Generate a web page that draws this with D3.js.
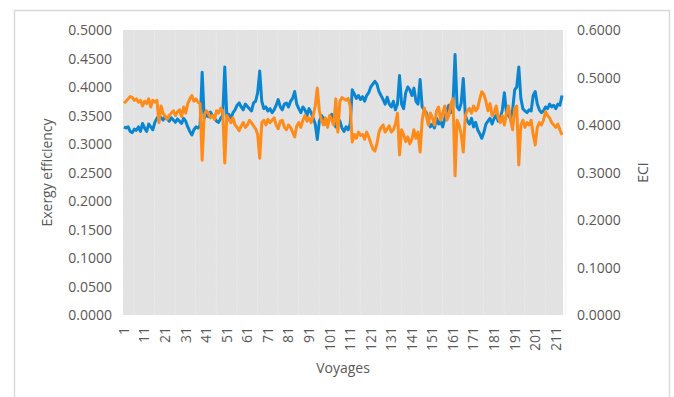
<!DOCTYPE html>
<html>
<head>
<meta charset="utf-8">
<script src="https://cdn.jsdelivr.net/npm/d3@7"></script>
<style>
html,body{margin:0;padding:0;background:#fff;}
svg{display:block;}
text{font-family:"Open Sans","Liberation Sans",sans-serif;fill:#595959;}
</style>
</head>
<body>
<svg id="chart" width="674" height="397"></svg>
<script>
const exergy = [
0.330,0.328,0.330,0.322,0.320,0.326,0.324,0.330,0.322,0.336,
0.328,0.322,0.335,0.330,0.325,0.338,0.345,0.350,0.346,0.342,
0.348,0.344,0.340,0.346,0.342,0.338,0.344,0.340,0.336,0.345,
0.340,0.330,0.322,0.316,0.325,0.330,0.328,0.332,0.426,0.345,
0.352,0.348,0.356,0.350,0.345,0.340,0.338,0.345,0.350,0.435,
0.348,0.352,0.345,0.355,0.360,0.368,0.372,0.365,0.360,0.370,
0.366,0.362,0.358,0.372,0.375,0.390,0.428,0.375,0.362,0.365,
0.358,0.362,0.355,0.360,0.368,0.378,0.365,0.360,0.370,0.372,
0.365,0.375,0.380,0.392,0.370,0.362,0.355,0.365,0.360,0.350,
0.362,0.355,0.345,0.335,0.308,0.340,0.350,0.345,0.335,0.340,
0.345,0.352,0.338,0.330,0.345,0.340,0.328,0.322,0.330,0.325,
0.335,0.395,0.388,0.380,0.385,0.378,0.383,0.375,0.385,0.390,
0.400,0.405,0.410,0.405,0.392,0.385,0.378,0.370,0.382,0.370,
0.365,0.375,0.360,0.370,0.420,0.370,0.362,0.390,0.400,0.395,
0.385,0.398,0.375,0.370,0.413,0.365,0.360,0.355,0.340,0.330,
0.335,0.328,0.345,0.335,0.340,0.330,0.345,0.360,0.368,0.355,
0.370,0.457,0.365,0.360,0.372,0.415,0.350,0.340,0.335,0.345,
0.330,0.338,0.325,0.318,0.310,0.320,0.335,0.340,0.345,0.335,
0.345,0.350,0.340,0.345,0.360,0.390,0.355,0.350,0.345,0.360,
0.395,0.400,0.435,0.380,0.362,0.358,0.355,0.360,0.358,0.385,
0.392,0.370,0.360,0.355,0.358,0.365,0.362,0.370,0.365,0.368,
0.362,0.370,0.368,0.385
];
const eci = [
0.446,0.450,0.455,0.460,0.458,0.452,0.455,0.448,0.452,0.440,
0.450,0.445,0.455,0.438,0.452,0.448,0.452,0.405,0.440,0.425,
0.418,0.412,0.420,0.425,0.430,0.420,0.428,0.432,0.418,0.438,
0.425,0.445,0.455,0.462,0.450,0.455,0.448,0.445,0.326,0.420,
0.430,0.425,0.415,0.420,0.412,0.430,0.425,0.435,0.430,0.320,
0.420,0.412,0.405,0.415,0.400,0.395,0.388,0.398,0.405,0.395,
0.400,0.410,0.405,0.398,0.392,0.380,0.330,0.405,0.410,0.400,
0.412,0.405,0.410,0.415,0.400,0.392,0.408,0.410,0.395,0.390,
0.400,0.395,0.385,0.375,0.398,0.405,0.395,0.410,0.420,0.408,
0.415,0.405,0.420,0.440,0.478,0.430,0.410,0.400,0.415,0.395,
0.420,0.410,0.400,0.455,0.385,0.450,0.458,0.455,0.452,0.456,
0.440,0.364,0.380,0.372,0.385,0.378,0.380,0.370,0.385,0.375,
0.362,0.350,0.345,0.360,0.385,0.395,0.400,0.385,0.392,0.398,
0.385,0.390,0.402,0.425,0.337,0.390,0.380,0.365,0.375,0.360,
0.370,0.390,0.372,0.385,0.343,0.410,0.436,0.420,0.400,0.425,
0.415,0.400,0.430,0.438,0.410,0.425,0.440,0.410,0.420,0.445,
0.455,0.293,0.410,0.400,0.380,0.343,0.420,0.430,0.435,0.425,
0.440,0.430,0.435,0.455,0.470,0.465,0.450,0.430,0.445,0.420,
0.425,0.440,0.415,0.405,0.420,0.400,0.425,0.440,0.410,0.390,
0.435,0.440,0.316,0.400,0.410,0.395,0.405,0.400,0.410,0.380,
0.358,0.395,0.405,0.400,0.410,0.428,0.420,0.415,0.405,0.400,
0.395,0.402,0.390,0.379
];
const voyages = d3.range(1, exergy.length + 1);
const xTickLabels = d3.range(1, 212, 10);
const leftTicks = [0,0.05,0.1,0.15,0.2,0.25,0.3,0.35,0.4,0.45,0.5];
const rightTicks = [0,0.1,0.2,0.3,0.4,0.5,0.6];

const svg = d3.select("#chart");
const L = 123, R = 563, T = 30, B = 315;

// outer frame
svg.append("rect").attr("x",14.5).attr("y",10.5).attr("width",655).attr("height",400)
  .attr("fill","#fff").attr("stroke","#d9d9d9").attr("stroke-width",1.5);

// pattern
const defs = svg.append("defs");
const pat = defs.append("pattern").attr("id","hatch").attr("patternUnits","userSpaceOnUse")
  .attr("width",3).attr("height",3);
pat.append("rect").attr("width",3).attr("height",3).attr("fill","#e4e4e4");
pat.append("path").attr("d","M0,3 L3,0").attr("stroke","#dcdcdc").attr("stroke-width",0.6);

const x = d3.scaleBand().domain(voyages).range([L, R]).padding(0);
const yL = d3.scaleLinear().domain([0,0.5]).range([B, T]);
const yR = d3.scaleLinear().domain([0,0.6]).range([B, T]);
const cx = d => x(d) + x.bandwidth()/2;

svg.append("rect").attr("x",L).attr("y",T).attr("width",R-L).attr("height",B-T).attr("fill","url(#hatch)");

// faint vertical streaks
svg.append("g").selectAll("line").data(xTickLabels).join("line")
  .attr("x1",d=>cx(d)+10).attr("x2",d=>cx(d)+10).attr("y1",T).attr("y2",B)
  .attr("stroke","#ececec").attr("stroke-width",1).attr("opacity",0.6);

// axes
const fmt = d3.format(".4f");
const gL = svg.append("g").attr("transform",`translate(${L-11},0)`)
  .call(d3.axisLeft(yL).tickValues(leftTicks).tickSize(0).tickFormat(fmt));
const gR = svg.append("g").attr("transform",`translate(${R+14},0)`)
  .call(d3.axisRight(yR).tickValues(rightTicks).tickSize(0).tickFormat(fmt));
const gX = svg.append("g").attr("transform",`translate(0,${B})`)
  .call(d3.axisBottom(x).tickValues(xTickLabels).tickSize(0));
[gL,gR,gX].forEach(g=>{
  g.select(".domain").remove();
  g.selectAll("text").style("font-family",'"Open Sans","Liberation Sans",sans-serif')
   .style("font-size","14px").attr("fill","#595959");
});
gL.selectAll("text").attr("x",0).attr("dy","0.35em");
gR.selectAll("text").attr("x",0).attr("dy","0.35em");
gX.selectAll("text").attr("transform","rotate(-90)").attr("text-anchor","end")
  .attr("x",-12).attr("y",0).attr("dy","0.35em");

// lines
const lineL = d3.line().x((d,i)=>cx(voyages[i])).y(d=>yL(d));
const lineR = d3.line().x((d,i)=>cx(voyages[i])).y(d=>yR(d));
svg.append("path").datum(exergy).attr("d",lineL).attr("fill","none")
  .attr("stroke","#0a85d2").attr("stroke-width",3).attr("stroke-linejoin","round");
svg.append("path").datum(eci).attr("d",lineR).attr("fill","none")
  .attr("stroke","#ff8b1a").attr("stroke-width",3).attr("stroke-linejoin","round");

// titles
svg.append("text").attr("x",(L+R)/2).attr("y",373).attr("text-anchor","middle")
  .style("font-size","14px").text("Voyages");
svg.append("text").attr("transform",`translate(52,${(T+B)/2}) rotate(-90)`)
  .attr("text-anchor","middle").style("font-size","14px").text("Exergy efficiency");
svg.append("text").attr("transform",`translate(648,${(T+B)/2}) rotate(-90)`)
  .attr("text-anchor","middle").style("font-size","14px").text("ECI");
</script>
</body>
</html>
